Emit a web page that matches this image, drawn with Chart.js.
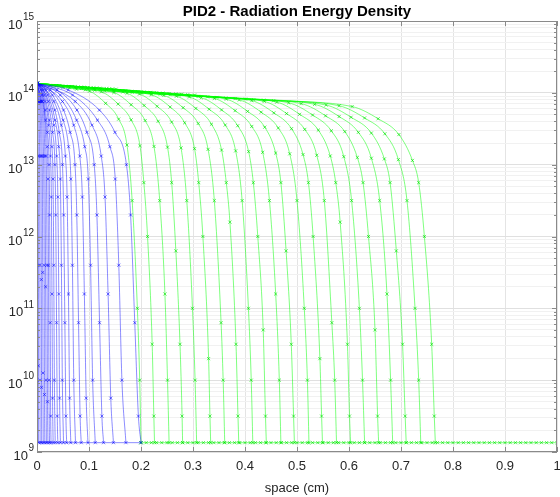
<!DOCTYPE html>
<html lang="en">
<head>
<meta charset="UTF-8" />
<title>PID2 - Radiation Energy Density</title>
<script src="https://cdn.jsdelivr.net/npm/chart.js"></script>
<style>
  html, body { margin: 0; padding: 0; background: #fff; }
  #wrap { width: 560px; height: 497px; }
</style>
</head>
<body>
<div id="wrap"><canvas id="energy" width="560" height="497"></canvas></div>
<script>
// profiles: [x (cm), log10 of energy density]
const blueRuns = [
  [[0,14.13],[0.0015,13.88],[0.0025,13.12],[0.0028,11.6],[0.0029,10.2],[0.003,9.13]],
  [[0,14.13],[0.003,13.88],[0.005,13.12],[0.0055,11.6],[0.0058,10.0],[0.006,9.13]],
  [[0,14.13],[0.0045,13.88],[0.0076,13.12],[0.0083,11.4],[0.0087,9.9],[0.009,9.13]],
  [[0,14.13],[0.006,13.88],[0.010,13.12],[0.011,11.5],[0.0115,10.1],[0.012,9.13]],
  [[0,14.13],[0.0075,13.88],[0.0126,13.12],[0.0138,11.6],[0.0144,9.8],[0.015,9.13]],
  [[0,14.13],[0.009,13.88],[0.0151,13.12],[0.0166,11.3],[0.0173,10.0],[0.018,9.13]],
  [[0,14.13],[0.0105,13.88],[0.0176,13.12],[0.0193,11.6],[0.0202,9.7],[0.021,9.13]],
  [[0,14.13],[0.0096,13.97],[0.0163,13.62],[0.0197,13.25],[0.0211,12.8],[0.0221,11.6],[0.0229,10.0],[0.024,9.13]],
  [[0,14.13],[0.0081,14.04],[0.0162,13.76],[0.0203,13.45],[0.0232,13.0],[0.0243,12.3],[0.0254,10.8],[0.0263,9.5],[0.027,9.13]],
  [[0,14.13],[0.0155,13.88],[0.0223,13.55],[0.026,13.12],[0.0276,12.55],[0.0288,11.2],[0.0299,9.75],[0.031,9.13]],
  [[0,14.13],[0.014,13.97],[0.0238,13.62],[0.0287,13.25],[0.0308,12.8],[0.0322,11.6],[0.0334,10.0],[0.035,9.13]],
  [[0,14.13],[0.012,14.04],[0.024,13.76],[0.030,13.45],[0.0344,13.0],[0.036,12.3],[0.0376,10.8],[0.039,9.5],[0.040,9.13]],
  [[0,14.13],[0.0225,13.88],[0.0324,13.55],[0.0378,13.12],[0.0401,12.55],[0.0419,11.2],[0.0434,9.75],[0.045,9.13]],
  [[0,14.13],[0.0204,13.97],[0.0347,13.62],[0.0418,13.25],[0.0449,12.8],[0.0469,11.6],[0.0487,10.0],[0.051,9.13]],
  [[0,14.13],[0.0171,14.04],[0.0342,13.76],[0.0428,13.45],[0.049,13.0],[0.0513,12.3],[0.0536,10.8],[0.0556,9.5],[0.057,9.13]],
  [[0,14.13],[0.0325,13.88],[0.0468,13.55],[0.0546,13.12],[0.0579,12.55],[0.0605,11.2],[0.0627,9.75],[0.065,9.13]],
  [[0,14.13],[0.0296,13.97],[0.0503,13.62],[0.0607,13.25],[0.0651,12.8],[0.0681,11.6],[0.0707,10.0],[0.074,9.13]],
  [[0,14.13],[0.0255,14.04],[0.051,13.76],[0.0638,13.45],[0.0731,13.0],[0.0765,12.3],[0.0799,10.8],[0.0829,9.5],[0.085,9.13]],
  [[0,14.13],[0.049,13.88],[0.0706,13.55],[0.0823,13.12],[0.0872,12.55],[0.0911,11.2],[0.0946,9.75],[0.098,9.13]],
  [[0,14.13],[0.0448,13.97],[0.0762,13.62],[0.0918,13.25],[0.0986,12.8],[0.103,11.6],[0.107,10.0],[0.112,9.13]],
  [[0,14.13],[0.0384,14.04],[0.0768,13.76],[0.096,13.45],[0.110,13.0],[0.1152,12.3],[0.1203,10.8],[0.1248,9.5],[0.128,9.13]],
  [[0,14.13],[0.0735,13.88],[0.1058,13.55],[0.1235,13.12],[0.1308,12.55],[0.1367,11.2],[0.1419,9.75],[0.147,9.13]],
  [[0,14.13],[0.0684,13.97],[0.1163,13.62],[0.1402,13.25],[0.1505,12.8],[0.1573,11.6],[0.1633,10.0],[0.171,9.13]],
  [[0,14.13],[0.06,14.04],[0.12,13.76],[0.15,13.45],[0.172,13.0],[0.18,12.3],[0.188,10.8],[0.195,9.5],[0.200,9.13]]
];

const greenRuns = [
  [[0,14.13],[0.025,14.104],[0.050,14.077],[0.076,14.051],[0.101,14.024],[0.132,13.854],[0.157,13.634],[0.173,13.274],[0.183,12.5],[0.193,11.0],[0.1975,10.0],[0.200,9.13]],
  [[0,14.13],[0.031,14.101],[0.062,14.072],[0.093,14.043],[0.124,14.014],[0.156,13.844],[0.181,13.624],[0.198,13.264],[0.2055,12.75],[0.2126,12.0],[0.2215,10.5],[0.2247,9.5],[0.226,9.13]],
  [[0,14.13],[0.037,14.099],[0.074,14.067],[0.111,14.036],[0.148,14.004],[0.181,13.834],[0.208,13.614],[0.225,13.254],[0.236,12.5],[0.246,11.2],[0.251,10.0],[0.254,9.13]],
  [[0,14.13],[0.043,14.096],[0.086,14.062],[0.130,14.028],[0.173,13.994],[0.206,13.824],[0.233,13.604],[0.251,13.244],[0.259,12.75],[0.267,11.8],[0.275,10.5],[0.279,9.5],[0.280,9.13]],
  [[0,14.13],[0.049,14.093],[0.098,14.057],[0.148,14.020],[0.197,13.983],[0.231,13.813],[0.259,13.593],[0.277,13.233],[0.288,12.5],[0.299,11.0],[0.304,10.0],[0.307,9.13]],
  [[0,14.13],[0.055,14.091],[0.110,14.052],[0.165,14.012],[0.220,13.973],[0.256,13.803],[0.284,13.583],[0.303,13.223],[0.311,12.75],[0.319,12.0],[0.330,10.3],[0.3326,9.5],[0.334,9.13]],
  [[0,14.13],[0.061,14.088],[0.122,14.047],[0.183,14.005],[0.244,13.963],[0.281,13.793],[0.310,13.573],[0.329,13.213],[0.341,12.5],[0.354,10.8],[0.358,10.0],[0.361,9.13]],
  [[0,14.13],[0.067,14.086],[0.134,14.042],[0.201,13.997],[0.268,13.953],[0.3055,13.783],[0.3355,13.563],[0.355,13.203],[0.364,12.75],[0.371,12.2],[0.3827,10.5],[0.3865,9.5],[0.388,9.13]],
  [[0,14.13],[0.073,14.083],[0.147,14.036],[0.220,13.989],[0.293,13.942],[0.331,13.772],[0.362,13.552],[0.382,13.192],[0.3945,12.5],[0.4066,11.0],[0.412,10.0],[0.415,9.13]],
  [[0,14.13],[0.079,14.081],[0.158,14.031],[0.237,13.982],[0.316,13.932],[0.355,13.762],[0.386,13.542],[0.407,13.182],[0.416,12.75],[0.4246,12.0],[0.435,10.7],[0.4394,9.5],[0.441,9.13]],
  [[0,14.13],[0.085,14.078],[0.170,14.026],[0.256,13.974],[0.341,13.922],[0.381,13.752],[0.413,13.532],[0.434,13.172],[0.447,12.5],[0.459,11.2],[0.466,10.0],[0.469,9.13]],
  [[0,14.13],[0.091,14.076],[0.182,14.021],[0.273,13.967],[0.364,13.912],[0.405,13.742],[0.438,13.522],[0.459,13.162],[0.469,12.75],[0.479,11.8],[0.489,10.5],[0.4934,9.5],[0.495,9.13]],
  [[0,14.13],[0.097,14.073],[0.194,14.016],[0.292,13.958],[0.389,13.901],[0.431,13.731],[0.464,13.511],[0.486,13.151],[0.500,12.5],[0.514,11.0],[0.520,10.0],[0.523,9.13]],
  [[0,14.13],[0.103,14.070],[0.206,14.011],[0.310,13.951],[0.413,13.891],[0.4555,13.721],[0.4895,13.501],[0.5116,13.141],[0.522,12.75],[0.531,12.0],[0.544,10.3],[0.5473,9.5],[0.549,9.13]],
  [[0,14.13],[0.109,14.068],[0.218,14.006],[0.328,13.943],[0.437,13.881],[0.480,13.711],[0.515,13.491],[0.538,13.131],[0.5525,12.5],[0.567,10.8],[0.5725,10.0],[0.576,9.13]],
  [[0,14.13],[0.115,14.065],[0.230,14.001],[0.346,13.936],[0.461,13.871],[0.505,13.701],[0.541,13.481],[0.564,13.121],[0.5745,12.75],[0.583,12.2],[0.597,10.5],[0.601,9.5],[0.603,9.13]],
  [[0,14.13],[0.121,14.063],[0.242,13.996],[0.363,13.928],[0.484,13.861],[0.530,13.691],[0.566,13.471],[0.590,13.111],[0.605,12.5],[0.620,11.0],[0.626,10.0],[0.630,9.13]],
  [[0,14.13],[0.127,14.060],[0.254,13.990],[0.381,13.920],[0.508,13.850],[0.555,13.680],[0.592,13.460],[0.616,13.100],[0.627,12.75],[0.6375,12.0],[0.650,10.7],[0.655,9.5],[0.657,9.13]],
  [[0,14.13],[0.134,14.058],[0.267,13.985],[0.401,13.913],[0.534,13.840],[0.581,13.670],[0.618,13.450],[0.643,13.090],[0.659,12.5],[0.673,11.2],[0.680,10.0],[0.684,9.13]],
  [[0,14.13],[0.139,14.055],[0.278,13.980],[0.417,13.905],[0.556,13.830],[0.604,13.660],[0.643,13.440],[0.668,13.080],[0.679,12.75],[0.691,11.8],[0.703,10.5],[0.708,9.5],[0.710,9.13]],
  [[0,14.13],[0.145,14.053],[0.290,13.975],[0.436,13.898],[0.581,13.820],[0.630,13.650],[0.669,13.430],[0.695,13.070],[0.7115,12.5],[0.727,11.0],[0.734,10.0],[0.738,9.13]],
  [[0,14.13],[0.152,14.050],[0.303,13.969],[0.455,13.890],[0.606,13.809],[0.656,13.639],[0.696,13.419],[0.722,13.059],[0.734,12.75],[0.745,12.0],[0.759,10.5],[0.764,9.5],[0.766,9.13]]
];

const floorLevel = 9.13;
const blueFloorX = [0.003, 0.2];
const greenFloorX = [0.20,0.21,0.22,0.23,0.24,0.25,0.26,0.27,0.28,0.29,
  0.30,0.31,0.32,0.33,0.34,0.35,0.36,0.37,0.38,0.39,
  0.40,0.41,0.42,0.43,0.44,0.45,0.46,0.47,0.48,0.49,
  0.50,0.51,0.52,0.53,0.54,0.55,0.56,0.57,0.58,0.59,
  0.60,0.61,0.62,0.63,0.64,0.65,0.66,0.67,0.68,0.69,
  0.70,0.71,0.72,0.73,0.74,0.75,0.76,0.77,0.78,0.79,
  0.80,0.81,0.82,0.83,0.84,0.85,0.86,0.87,0.88,0.89,
  0.90,0.91,0.92,0.93,0.94,0.95,0.96,0.97,0.98,0.99,1.00];

const xTicks = [0, 0.1, 0.2, 0.3, 0.4, 0.5, 0.6, 0.7, 0.8, 0.9, 1];
const xTickLabels = ['0', '0.1', '0.2', '0.3', '0.4', '0.5', '0.6', '0.7', '0.8', '0.9', '1'];
const yDecades = [9, 10, 11, 12, 13, 14, 15];

const blueLine = 'rgba(0,0,255,0.45)';
const blueMark = 'rgba(0,0,255,0.7)';
const greenLine = 'rgba(0,255,0,0.5)';
const greenMark = 'rgba(0,225,0,0.8)';

function toPoints(run) {
  return run.map((p) => ({ x: p[0], y: Math.pow(10, p[1]) }));
}

// log grid: every 1..9 x 10^n between the decades
const yGrid = [];
yDecades.forEach((d, i) => {
  for (let m = 1; m < 10; m++) {
    if (i < yDecades.length - 1 || m === 1) yGrid.push(m * Math.pow(10, d));
  }
});
function isDecade(v) {
  const l = Math.log10(v);
  return Math.abs(l - Math.round(l)) < 1e-6;
}

const datasets = [];
greenRuns.forEach((run) => {
  datasets.push({ data: toPoints(run), borderColor: greenLine, pointBorderColor: greenMark, pointBackgroundColor: greenMark, order: 2 });
});
datasets.push({
  data: greenFloorX.map((x) => ({ x: x, y: Math.pow(10, floorLevel) })),
  borderColor: greenLine, pointBorderColor: greenMark, pointBackgroundColor: greenMark, order: 2
});
blueRuns.forEach((run) => {
  datasets.push({ data: toPoints(run), borderColor: blueLine, pointBorderColor: blueMark, pointBackgroundColor: blueMark, order: 1 });
});
datasets.push({
  data: blueFloorX.map((x) => ({ x: x, y: Math.pow(10, floorLevel) })),
  borderColor: blueLine, pointRadius: 0, order: 1
});

const FONT = '"Liberation Sans", Arial, Helvetica, sans-serif';

const frame = {
  id: 'frame',
  afterDraw(chart) {
    const ctx = chart.ctx;
    const a = chart.chartArea;
    const xs = chart.scales.x;
    const ys = chart.scales.y;
    ctx.save();

    // box + inside ticks
    ctx.strokeStyle = '#8a8a8a';
    ctx.lineWidth = 1;
    ctx.strokeRect(a.left + 0.5, a.top + 0.5, a.right - a.left - 1, a.bottom - a.top - 1);
    ctx.beginPath();
    xTicks.forEach((v) => {
      const px = Math.round(xs.getPixelForValue(v)) + 0.5;
      ctx.moveTo(px, a.bottom); ctx.lineTo(px, a.bottom - 5);
      ctx.moveTo(px, a.top); ctx.lineTo(px, a.top + 5);
    });
    yGrid.forEach((v) => {
      const py = Math.round(ys.getPixelForValue(v)) + 0.5;
      const len = isDecade(v) ? 5 : 3;
      ctx.moveTo(a.left, py); ctx.lineTo(a.left + len, py);
      ctx.moveTo(a.right, py); ctx.lineTo(a.right - len, py);
    });
    ctx.stroke();

    ctx.fillStyle = '#262626';
    // x tick labels
    ctx.font = '13px ' + FONT;
    ctx.textAlign = 'center';
    ctx.textBaseline = 'middle';
    xTicks.forEach((v, i) => ctx.fillText(xTickLabels[i], xs.getPixelForValue(v), 466));

    // y tick labels 10^n
    yDecades.forEach((d) => {
      const py = ys.getPixelForValue(Math.pow(10, d));
      const sup = String(d);
      ctx.font = '10px ' + FONT;
      const wSup = ctx.measureText(sup).width;
      ctx.font = '13px ' + FONT;
      const wBase = ctx.measureText('10').width;
      const right = 34;
      ctx.textAlign = 'left';
      ctx.fillText('10', right - wSup - wBase - 0.5, py + 4.5);
      ctx.font = '10px ' + FONT;
      ctx.fillText(sup, right - wSup, py - 3.5);
    });

    // axis label and title
    ctx.textAlign = 'center';
    ctx.font = '13px ' + FONT;
    ctx.fillText('space (cm)', (a.left + a.right) / 2, 488);
    ctx.fillStyle = '#000';
    ctx.font = 'bold 15px ' + FONT;
    ctx.fillText('PID2 - Radiation Energy Density', (a.left + a.right) / 2, 12);
    ctx.restore();
  }
};

new Chart(document.getElementById('energy'), {
  type: 'line',
  data: { datasets: datasets },
  options: {
    responsive: false,
    animation: false,
    devicePixelRatio: 1,
    layout: { padding: { top: 21, right: 2, left: 0, bottom: 0 } },
    elements: {
      line: { borderWidth: 1, cubicInterpolationMode: 'monotone', fill: false },
      point: { pointStyle: 'crossRot', radius: 2.2, borderWidth: 0.8, hoverRadius: 2.2 }
    },
    plugins: { legend: { display: false }, tooltip: { enabled: false }, title: { display: false } },
    scales: {
      x: {
        type: 'linear',
        min: 0,
        max: 1,
        ticks: { display: false, stepSize: 0.1 },
        grid: { color: '#e4e4e4', drawTicks: false },
        border: { display: false },
        afterFit: (s) => { s.height = 45; }
      },
      y: {
        type: 'logarithmic',
        min: 1e9,
        max: 1e15,
        ticks: { display: false },
        afterBuildTicks: (s) => { s.ticks = yGrid.map((v) => ({ value: v })); },
        grid: {
          drawTicks: false,
          color: (c) => (c.tick && isDecade(c.tick.value) ? '#e0e0e0' : '#f1f1f1')
        },
        border: { display: false },
        afterFit: (s) => { s.width = 37; }
      }
    }
  },
  plugins: [frame]
});
</script>
</body>
</html>
